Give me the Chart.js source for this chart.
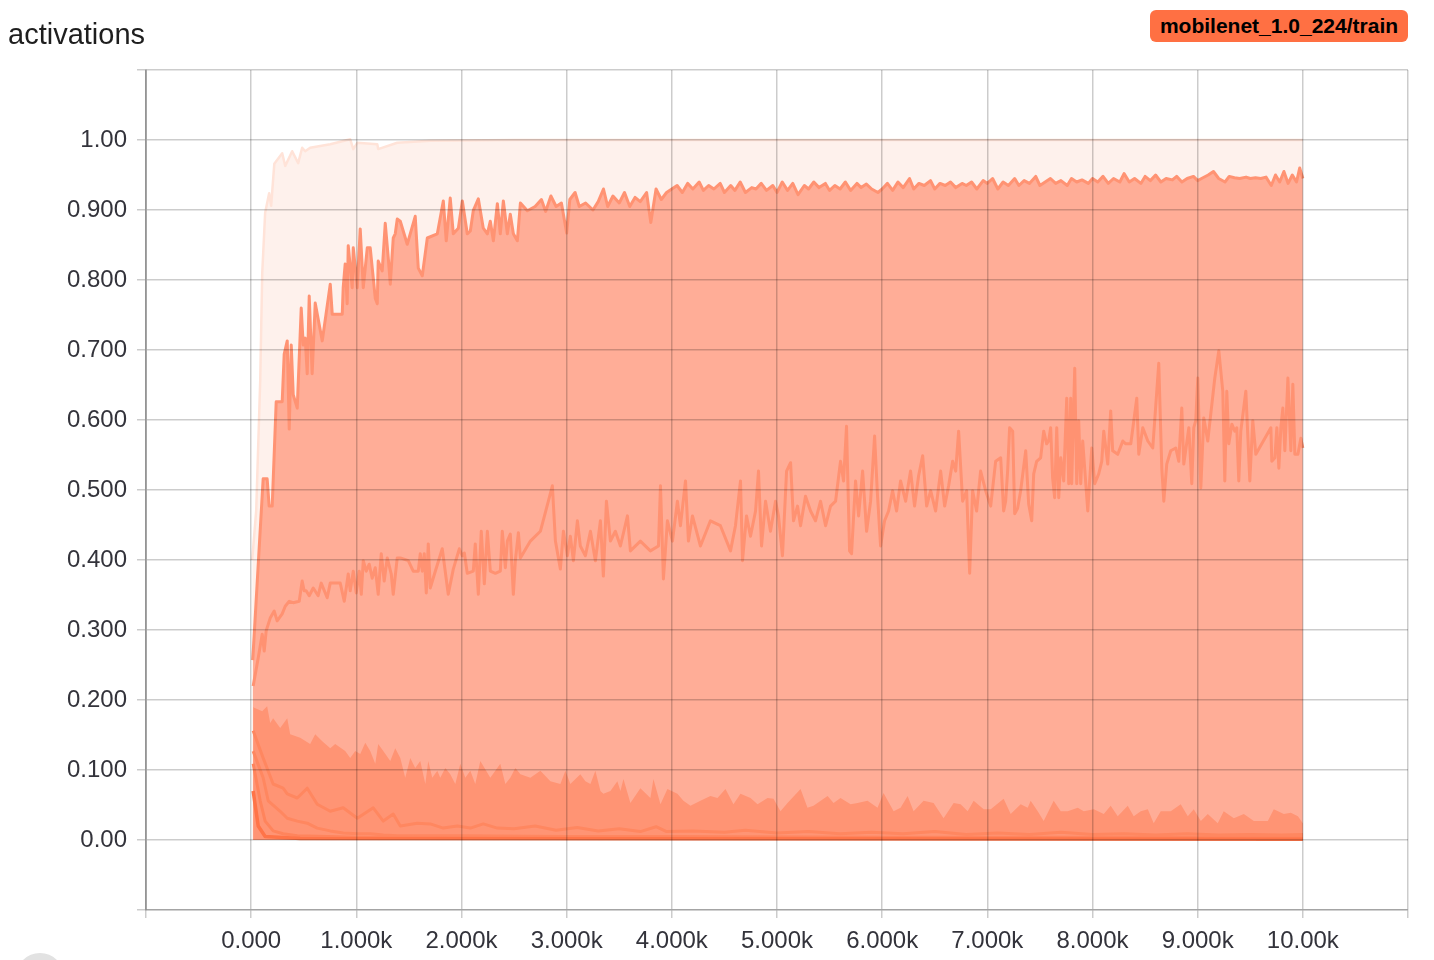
<!DOCTYPE html>
<html>
<head>
<meta charset="utf-8">
<script src="https://cdn.jsdelivr.net/npm/chart.js@4.4.1/dist/chart.umd.min.js"></script>
<style>
  html, body { margin: 0; padding: 0; background: #ffffff; }
  body { width: 1434px; height: 960px; position: relative; overflow: hidden; font-family: "Liberation Sans", Arial, sans-serif; }
  #wrap { position: absolute; left: 0; top: 0; width: 1434px; height: 960px; }
  #title { position: absolute; left: 8px; top: 20px; font-size: 29px; line-height: 28px; color: #1e1e1e; }
  #badge { position: absolute; left: 1150px; top: 10px; width: 258px; height: 32px; border-radius: 6px;
           background: #ff7043; color: #000; font-weight: bold; font-size: 21px; line-height: 32px; text-align: center; }
  #dot { position: absolute; left: 16px; top: 953px; width: 48px; height: 48px; border-radius: 50%; background: #e2e2e2; }
</style>
</head>
<body>
<div id="wrap"><canvas id="c"></canvas></div>
<div id="title"></div>
<div id="badge"></div>
<div id="dot"></div>
<script>
const titleText = 'activations';
const runLabel = 'mobilenet_1.0_224/train';
const xTickLabels = ['0.000','1.000k','2.000k','3.000k','4.000k','5.000k','6.000k','7.000k','8.000k','9.000k','10.00k'];
const yTickLabels = ['0.00','0.100','0.200','0.300','0.400','0.500','0.600','0.700','0.800','0.900','1.00'];

// [step, value]
const maxSeries = [[10,0.40],[48,0.471],[86,0.656],[105,0.809],[133,0.896],[171,0.924],[190,0.906],[220,0.966],[295,0.981],[324,0.963],[390,0.984],[447,0.967],[485,0.989],[514,0.984],[561,0.989],[752,0.994],[942,1.001],[971,0.987],[1009,0.996],[1199,0.994],[1208,0.987],[1389,0.996],[1703,0.999],[2500,1.0],[4000,1.0],[6000,1.0],[8000,1.0],[10000,1.0]];

const p93Series = [[15,0.257],[114,0.516],[152,0.516],[171,0.477],[200,0.477],[238,0.626],[295,0.626],[314,0.694],[343,0.713],[362,0.587],[381,0.707],[400,0.636],[438,0.617],[476,0.76],[495,0.707],[514,0.717],[533,0.666],[552,0.777],[580,0.666],[609,0.767],[676,0.713],[752,0.794],[771,0.751],[866,0.751],[875,0.789],[894,0.823],[913,0.766],[923,0.849],[961,0.789],[971,0.846],[1009,0.789],[1037,0.873],[1066,0.789],[1104,0.846],[1132,0.846],[1180,0.774],[1199,0.766],[1208,0.827],[1246,0.813],[1275,0.881],[1304,0.831],[1323,0.794],[1351,0.86],[1370,0.866],[1389,0.887],[1418,0.884],[1484,0.851],[1560,0.891],[1589,0.817],[1627,0.806],[1675,0.86],[1770,0.866],[1827,0.913],[1855,0.856],[1893,0.917],[1922,0.866],[1970,0.874],[2008,0.913],[2055,0.866],[2084,0.87],[2112,0.899],[2160,0.916],[2207,0.874],[2246,0.866],[2274,0.884],[2303,0.856],[2341,0.909],[2369,0.866],[2398,0.913],[2436,0.866],[2464,0.894],[2493,0.866],[2531,0.856],[2560,0.91],[2626,0.899],
[2700,0.905],[2760,0.915],[2800,0.898],[2850,0.92],[2900,0.905],[2950,0.91],[3000,0.867],[3030,0.915],[3080,0.925],[3120,0.905],[3180,0.91],[3250,0.90],[3300,0.912],[3350,0.93],[3390,0.905],[3440,0.92],[3500,0.91],[3550,0.925],[3600,0.905],[3650,0.918],[3700,0.912],[3760,0.925],[3800,0.882],[3850,0.93],[3900,0.915],[3950,0.925],[4000,0.93],[4050,0.935],[4100,0.925],[4150,0.938],[4200,0.93],[4260,0.94],[4300,0.928],[4350,0.935],[4400,0.93],[4460,0.938],[4500,0.925],[4560,0.935],[4600,0.928],[4650,0.94],[4700,0.925],[4760,0.932],[4800,0.93],[4850,0.938],[4900,0.928],[4960,0.935],[5000,0.925],[5050,0.94],[5100,0.928],[5150,0.938],[5200,0.922],[5260,0.935],[5300,0.93],[5350,0.94],[5400,0.932],[5460,0.938],[5500,0.928],[5550,0.935],[5600,0.93],[5650,0.94],[5700,0.928],[5760,0.938],[5800,0.932],[5850,0.937],[5900,0.93],[5960,0.925],[6000,0.93],[6050,0.938],[6100,0.928],[6150,0.94],[6200,0.932],[6260,0.945],[6300,0.93],[6350,0.938],[6400,0.935],[6460,0.942],[6500,0.93],[6550,0.938],[6600,0.935],[6650,0.94],[6700,0.932],[6760,0.938],[6800,0.935],[6850,0.94],[6900,0.93],[6960,0.942],[7000,0.938],[7050,0.945],[7100,0.93],[7150,0.94],[7200,0.935],[7260,0.945],[7300,0.935],[7350,0.942],[7400,0.938],[7460,0.948],[7500,0.935],[7550,0.94],[7600,0.945],[7650,0.938],[7700,0.942],[7760,0.935],[7800,0.945],[7850,0.94],[7900,0.943],[7960,0.938],[8000,0.945],[8050,0.94],[8100,0.948],[8150,0.938],[8200,0.945],[8260,0.94],[8300,0.952],[8350,0.94],[8400,0.945],[8460,0.938],[8500,0.948],[8550,0.942],[8600,0.95],[8650,0.94],[8700,0.945],[8760,0.943],[8800,0.948],[8850,0.94],[8900,0.945],[8960,0.948],[9000,0.942],[9050,0.946],[9100,0.95],[9150,0.955],[9200,0.945],[9260,0.94],[9300,0.948],[9350,0.946],[9400,0.945],[9460,0.947],[9500,0.945],[9550,0.946],[9600,0.945],[9650,0.947],[9700,0.935],[9740,0.95],[9780,0.94],[9820,0.955],[9860,0.938],[9900,0.95],[9940,0.94],[9970,0.96],[10000,0.945]];

const midSeries = [[19,0.22],[67,0.26],[105,0.294],[124,0.27],[143,0.299],[181,0.317],[219,0.327],[247,0.313],[295,0.323],[324,0.334],[362,0.341],[400,0.339],[457,0.341],[485,0.37],[504,0.356],[523,0.356],[552,0.349],[590,0.36],[637,0.349],[666,0.367],[723,0.346],[752,0.367],[847,0.367],[885,0.341],[904,0.36],[923,0.38],[942,0.356],[971,0.384],[999,0.353],[1028,0.384],[1047,0.351],[1066,0.399],[1094,0.384],[1123,0.394],[1151,0.374],[1180,0.389],[1208,0.351],[1237,0.409],[1265,0.37],[1294,0.403],[1332,0.38],[1351,0.351],[1389,0.403],[1418,0.403],[1494,0.399],[1541,0.384],[1589,0.384],[1608,0.409],[1627,0.384],[1646,0.409],[1665,0.353],[1684,0.423],[1703,0.36],[1751,0.384],[1817,0.416],[1874,0.351],[1922,0.387],[1979,0.416],[2008,0.406],[2027,0.41],[2055,0.381],[2112,0.384],[2131,0.423],[2160,0.351],[2188,0.441],[2217,0.366],[2246,0.441],[2274,0.384],[2322,0.381],[2369,0.384],[2388,0.441],[2417,0.389],[2436,0.427],[2464,0.437],[2493,0.351],[2512,0.399],[2541,0.439],[2560,0.403],
[2655,0.427],[2750,0.441],[2826,0.484],[2864,0.506],[2893,0.427],[2940,0.387],[2969,0.441],[3007,0.406],[3035,0.434],[3064,0.399],[3102,0.456],[3130,0.42],[3178,0.406],[3226,0.441],[3273,0.399],[3321,0.456],[3349,0.377],[3378,0.484],[3416,0.427],[3463,0.441],[3511,0.42],[3578,0.463],[3606,0.413],[3701,0.427],[3796,0.413],[3873,0.42],[3892,0.506],[3920,0.373],[3958,0.456],[4006,0.427],[4053,0.484],[4082,0.449],[4130,0.513],[4158,0.427],[4196,0.463],[4272,0.42],[4367,0.456],[4462,0.449],[4558,0.413],[4605,0.449],[4653,0.513],[4672,0.399],[4710,0.463],[4748,0.434],[4796,0.47],[4824,0.527],[4853,0.42],[4891,0.484],[4938,0.441],[4986,0.484],[5014,0.463],[5052,0.406],[5091,0.527],[5129,0.539],[5157,0.456],[5195,0.477],[5224,0.449],[5271,0.491],[5319,0.47],[5366,0.456],[5414,0.484],[5462,0.449],[5509,0.477],[5557,0.484],[5604,0.541],[5633,0.513],[5661,0.591],[5690,0.413],[5709,0.409],[5747,0.513],[5776,0.463],[5814,0.527],[5852,0.441],[5890,0.484],[5928,0.577],[5956,0.491],[5985,0.42],[6023,0.456],[6061,0.47],[6099,0.499],[6137,0.47],[6175,0.513],[6223,0.484],[6270,0.527],[6308,0.477],[6346,0.52],[6385,0.549],[6423,0.477],[6461,0.499],[6508,0.47],[6556,0.527],[6594,0.477],[6632,0.506],[6670,0.541],[6699,0.527],[6727,0.584],[6765,0.484],[6803,0.499],[6832,0.381],[6860,0.499],[6898,0.47],[6936,0.527],[6984,0.499],[7032,0.477],[7079,0.541],[7127,0.546],
[7155,0.47],[7174,0.484],[7193,0.527],[7212,0.589],[7241,0.584],[7260,0.466],[7288,0.474],[7317,0.499],[7365,0.556],[7393,0.48],[7422,0.456],[7441,0.523],[7469,0.541],[7507,0.546],[7536,0.584],[7564,0.566],[7583,0.57],[7602,0.589],[7621,0.517],[7640,0.489],[7660,0.589],[7679,0.489],[7698,0.546],[7726,0.513],[7755,0.631],[7774,0.509],[7793,0.631],[7802,0.509],[7831,0.674],[7850,0.509],[7869,0.599],[7888,0.509],[7907,0.57],[7955,0.47],[7993,0.56],[8021,0.509],[8059,0.523],[8088,0.541],[8107,0.584],[8145,0.537],[8173,0.613],[8192,0.556],[8240,0.551],[8288,0.57],[8316,0.566],[8364,0.566],[8421,0.631],[8440,0.551],[8478,0.589],[8526,0.57],[8573,0.56],[8630,0.681],[8659,0.531],[8678,0.484],[8706,0.537],[8744,0.556],[8792,0.56],[8820,0.541],[8849,0.617],[8868,0.537],[8916,0.589],[8944,0.509],[8963,0.589],[8982,0.599],[9001,0.66],[9030,0.503],[9058,0.603],[9096,0.57],[9125,0.609],[9163,0.66],[9201,0.699],[9239,0.641],[9258,0.513],[9277,0.641],[9296,0.566],[9325,0.594],[9353,0.584],[9372,0.589],[9391,0.513],[9410,0.584],[9458,0.641],[9496,0.513],[9524,0.599],[9553,0.551],[9696,0.589],[9705,0.541],[9734,0.546],[9753,0.589],[9772,0.531],[9791,0.589],[9810,0.617],[9829,0.556],[9858,0.66],[9886,0.556],[9905,0.651],[9924,0.551],[9953,0.551],[9981,0.574],[10000,0.56]];

const darkBandSeries = [[19,0.19],[29,0.189],[105,0.184],[152,0.191],[181,0.167],[209,0.174],[276,0.16],[343,0.174],[371,0.151],[466,0.146],[561,0.137],[609,0.151],[676,0.141],[752,0.131],[799,0.137],[894,0.127],[942,0.117],[990,0.127],[1037,0.123],[1085,0.139],[1132,0.127],[1180,0.109],[1208,0.137],[1256,0.127],[1323,0.113],[1370,0.131],[1418,0.117],[1465,0.089],[1513,0.117],[1560,0.103],[1608,0.113],[1656,0.08],[1684,0.113],[1722,0.089],[1770,0.099],[1798,0.089],[1846,0.103],[1893,0.094],[1941,0.08],[1989,0.109],[2036,0.089],[2084,0.099],[2131,0.08],[2179,0.113],[2274,0.089],[2369,0.109],[2417,0.08],[2464,0.089],[2512,0.103],[2560,0.094],[2655,0.089],[2750,0.099],[2845,0.084],[2940,0.08],[2988,0.099],[3035,0.08],[3130,0.094],[3178,0.084],[3226,0.08],[3273,0.099],[3321,0.07],[3349,0.066],[3416,0.07],[3482,0.084],[3511,0.07],[3540,0.087],[3606,0.053],[3701,0.074],[3796,0.06],[3825,0.087],[3892,0.051],[3958,0.073],[4053,0.066],[4110,0.056],[4177,0.049],[4272,0.056],[4367,0.063],[4434,0.06],[4510,0.073],[4586,0.051],[4653,0.066],[4748,0.06],[4815,0.051],[4910,0.06],[4967,0.059],[5033,0.041],[5100,0.053],[5224,0.073],[5290,0.046],[5347,0.049],[5481,0.063],[5538,0.053],[5604,0.06],[5700,0.051],[5766,0.053],[5861,0.056],[5956,0.046],[6013,0.067],[6109,0.041],[6175,0.046],[6242,0.063],[6299,0.041],[6394,0.056],[6489,0.053],[6584,0.031],[6680,0.053],[6746,0.051],[6813,0.041],[6870,0.056],[6965,0.044],[7032,0.044],[7155,0.059],[7222,0.037],[7317,0.051],[7384,0.046],[7412,0.056],[7479,0.041],[7536,0.027],[7631,0.056],[7698,0.041],[7764,0.041],[7860,0.046],[7917,0.041],[8012,0.044],[8107,0.037],[8173,0.049],[8240,0.034],[8335,0.049],[8392,0.034],[8459,0.041],[8526,0.044],[8582,0.024],[8649,0.041],[8744,0.041],[8839,0.051],[8906,0.034],[8963,0.044],[9030,0.027],[9096,0.037],[9191,0.024],[9248,0.041],[9344,0.031],[9439,0.037],[9534,0.027],[9667,0.027],[9724,0.044],[9819,0.037],[9886,0.039],[9953,0.034],[10000,0.024]];

const lowAseries = [[19,0.156],[114,0.117],[209,0.08],[304,0.074],[343,0.066],[438,0.06],[533,0.074],[628,0.051],[752,0.041],[875,0.046],[1009,0.031],[1161,0.046],[1256,0.027],[1351,0.037],[1418,0.02],[1579,0.024],[1703,0.023],[1827,0.017],[1960,0.02],[2084,0.017],[2207,0.023],[2341,0.017],[2500,0.016],[2700,0.02],[2900,0.014],[3100,0.018],[3300,0.013],[3500,0.016],[3700,0.012],[3850,0.019],[3950,0.012],[4200,0.013],[4500,0.011],[4700,0.014],[5000,0.01],[5300,0.012],[5600,0.009],[5900,0.011],[6200,0.009],[6500,0.012],[6800,0.008],[7100,0.01],[7400,0.008],[7700,0.011],[8000,0.008],[8300,0.009],[8600,0.007],[8900,0.009],[9200,0.007],[9500,0.008],[9800,0.007],[10000,0.008]];
const lowBseries = [[19,0.127],[114,0.089],[162,0.056],[276,0.041],[343,0.031],[438,0.027],[533,0.024],[628,0.017],[752,0.013],[875,0.01],[1009,0.009],[1132,0.009],[1256,0.007],[1389,0.006],[2000,0.006],[3000,0.005],[4000,0.005],[6000,0.004],[8000,0.004],[10000,0.004]];
const lowCseries = [[19,0.109],[86,0.056],[133,0.027],[209,0.013],[304,0.009],[438,0.006],[1000,0.004],[3000,0.003],[10000,0.003]];
const minSeries = [[19,0.07],[67,0.02],[133,0.005],[466,0.002],[10000,0.001]];

document.getElementById('title').textContent = titleText;
document.getElementById('badge').textContent = runLabel;

const toPts = s => s.map(([x, y]) => ({ x, y }));
const FONT = '"Liberation Sans", Arial, sans-serif';
const GRID = 'rgba(0,0,0,0.2)';

new Chart(document.getElementById('c'), {
  type: 'line',
  data: {
    datasets: [
      { data: toPts(maxSeries), borderColor: '#ffe3d8', borderWidth: 2.5, backgroundColor: '#fef1ec', fill: 'origin', order: 10 },
      { data: toPts(p93Series), borderColor: '#ff9373', borderWidth: 3, backgroundColor: '#ffad97', fill: 'origin', order: 9 },
      { data: toPts(darkBandSeries), borderColor: 'rgba(0,0,0,0)', borderWidth: 0, backgroundColor: '#ff9474', fill: 'origin', order: 8 },
      { data: toPts(midSeries), borderColor: '#ff9272', borderWidth: 3, fill: false, order: 5 },
      { data: toPts(lowAseries), borderColor: '#ff8760', borderWidth: 3, fill: false, order: 4 },
      { data: toPts(lowBseries), borderColor: '#ff8760', borderWidth: 3, fill: false, order: 3 },
      { data: toPts(lowCseries), borderColor: '#ff845c', borderWidth: 3, fill: false, order: 2 },
      { data: toPts(minSeries), borderColor: '#ff7448', borderWidth: 3.5, fill: false, order: 1 }
    ]
  },
  options: {
    responsive: true,
    maintainAspectRatio: false,
    animation: false,
    layout: { padding: { top: 70, right: 26, left: 0, bottom: 0 } },
    elements: { point: { radius: 0 }, line: { tension: 0, borderJoinStyle: 'round' } },
    plugins: { legend: { display: false }, tooltip: { enabled: false } },
    scales: {
      x: {
        type: 'linear', min: -1000, max: 11000,
        afterFit: s => { s.height = 50; },
        ticks: {
          stepSize: 1000, autoSkip: false, maxRotation: 0, padding: 9,
          color: '#33333b', font: { family: FONT, size: 24 },
          callback: v => (v >= 0 && v <= 10000) ? xTickLabels[Math.round(v / 1000)] : ''
        },
        grid: { color: GRID, lineWidth: 1.5, tickLength: 8, drawTicks: true, z: 1 },
        border: { display: true, color: GRID, width: 1.5, z: 1 }
      },
      y: {
        type: 'linear', min: -0.1, max: 1.1,
        afterFit: s => { s.width = 146; },
        ticks: {
          stepSize: 0.1, autoSkip: false, padding: 10,
          color: '#33333b', font: { family: FONT, size: 24 },
          callback: v => {
            const i = Math.round(v * 10);
            return (i >= 0 && i <= 10 && Math.abs(v * 10 - i) < 1e-6) ? yTickLabels[i] : '';
          }
        },
        grid: { color: GRID, lineWidth: 1.5, tickLength: 9, drawTicks: true, z: 1 },
        border: { display: true, color: 'rgba(0,0,0,0.28)', width: 2, z: 1 }
      }
    }
  }
});
</script>
</body>
</html>
